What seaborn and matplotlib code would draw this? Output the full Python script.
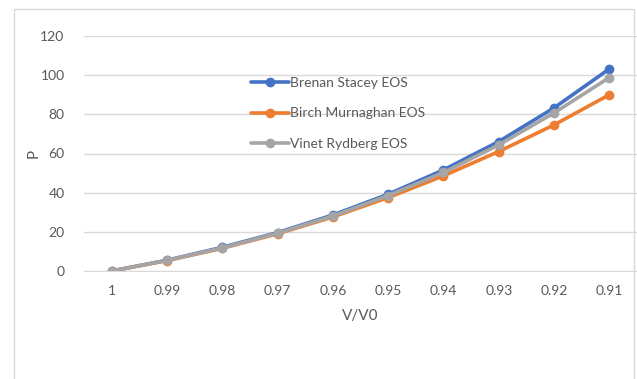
import pandas as pd
import matplotlib
matplotlib.use('Agg')
import matplotlib.pyplot as plt
import seaborn as sns
from matplotlib.patches import Rectangle

# data
ratios = ['1', '0.99', '0.98', '0.97', '0.96', '0.95', '0.94', '0.93', '0.92', '0.91']
brenan_stacey = [0, 5.5, 12.1, 19.6, 28.6, 39.2, 51.6, 66.1, 83.3, 103.2]
birch_murnaghan = [0, 5.3, 11.6, 19.0, 27.6, 37.5, 48.6, 61.0, 74.6, 90.0]
vinet_rydberg = [0, 5.4, 11.8, 19.3, 28.1, 38.5, 50.3, 64.4, 80.7, 98.8]
series_names = ['Brenan Stacey EOS', 'Birch Murnaghan EOS', 'Vinet Rydberg EOS']
colors = ['#4472C4', '#ED7D31', '#A5A5A5']

df = pd.concat([
    pd.DataFrame({'V/V0': ratios, 'P': vals, 'EOS': name})
    for name, vals in zip(series_names, [brenan_stacey, birch_murnaghan, vinet_rydberg])
])

sns.set_style('white')
plt.rcParams['font.family'] = ['Lato', 'DejaVu Sans']

fig = plt.figure(figsize=(6.37, 3.79), dpi=100)
W, H = 637, 379
ax = fig.add_axes([84 / W, 1 - 271 / H, (637 - 84) / W, (271 - 36) / H])

# outer chart frame
fig.patches.append(Rectangle((14 / W, -0.05), (634 - 14) / W, 1 - 9 / H + 0.05,
                             transform=fig.transFigure, fill=False,
                             edgecolor='#D9D9D9', linewidth=1))

sns.lineplot(data=df, x='V/V0', y='P', hue='EOS', palette=colors, marker='o',
             markersize=7, markeredgewidth=0, linewidth=2.6, sort=False, ax=ax)

ax.set_ylim(0, 120)
ax.set_xlim(-0.5, len(ratios) - 0.5)
ax.set_yticks(range(0, 121, 20))
ax.yaxis.grid(True, color='#D9D9D9', linewidth=1)
ax.set_axisbelow(True)
for s in ['top', 'right', 'left']:
    ax.spines[s].set_visible(False)
ax.spines['bottom'].set_color('#D9D9D9')
ax.tick_params(length=0, labelsize=10, labelcolor='#595959')
ax.tick_params(axis='y', pad=14)
ax.tick_params(axis='x', pad=10)
ax.set_xlabel('V/V0', fontsize=11, color='#595959', labelpad=9)
ax.set_ylabel('P', fontsize=11, color='#595959', labelpad=0)

ax.legend(loc='upper left', bbox_to_anchor=(0.28, 0.88), frameon=False,
          fontsize=10, labelcolor='#595959', handlelength=2.7,
          labelspacing=1.35, handletextpad=0.05)

plt.savefig('out.png', dpi=100)
